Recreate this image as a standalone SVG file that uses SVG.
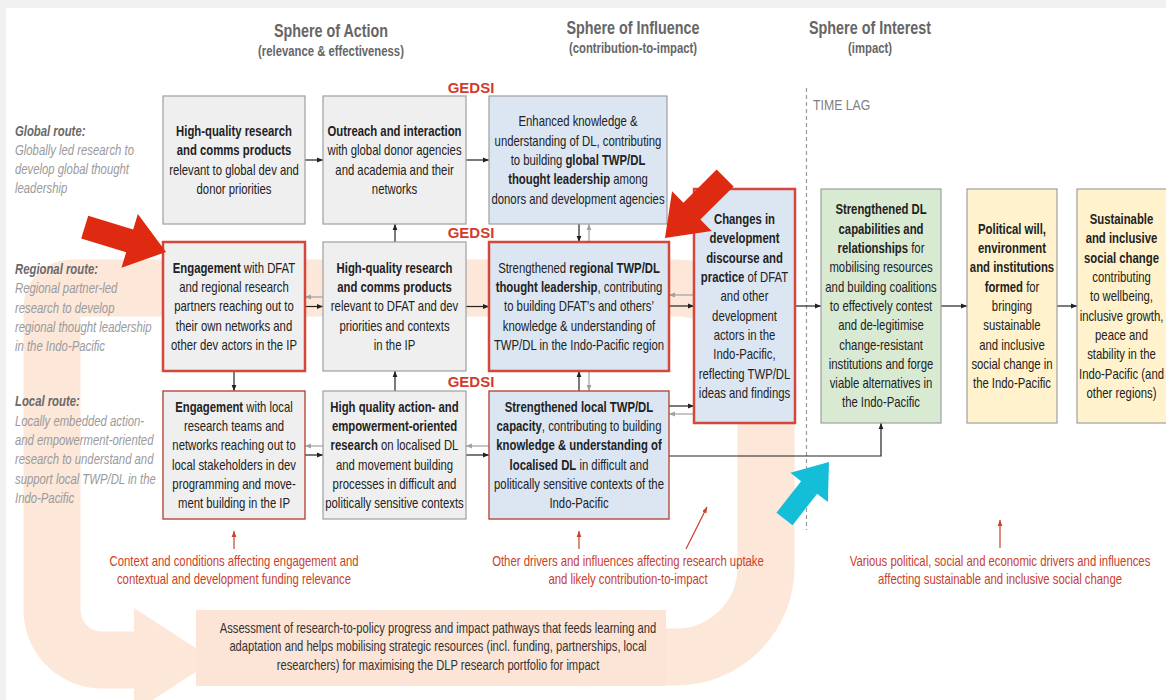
<svg xmlns="http://www.w3.org/2000/svg" width="1166" height="700" viewBox="0 0 1166 700">
<style>
text { font-family: "Liberation Sans", Arial, sans-serif; }
.t { font-size: 14px; fill: #222; text-anchor: middle; }
.b { font-weight: bold; }
.lbl { font-size: 14px; font-style: italic; fill: #9a9a9a; }
.lblh { font-weight: bold; fill: #6a6a6a; }
.hdr { font-size: 17.5px; font-weight: bold; fill: #666; text-anchor: middle; }
.sub { font-size: 13.8px; font-weight: bold; fill: #666; text-anchor: middle; }
.lag { font-size: 15px; fill: #808080; }
.gedsi { font-size: 15px; font-weight: bold; fill: #d23c2c; text-anchor: middle; }
.ann { font-size: 14px; fill: #c9412c; text-anchor: middle; }
.assess { font-size: 13.8px; fill: #333; text-anchor: middle; }
.grey { fill: #efefef; stroke: #9e9e9e; stroke-width: 1.2; }
.blue { fill: #dce6f2; stroke: #9e9e9e; stroke-width: 1.2; }
.redT { stroke: #d4473a; stroke-width: 2.5; }
.redt { stroke: #b5493b; stroke-width: 1.4; }
.green { fill: #d9ead3; stroke: #9e9e9e; stroke-width: 1.2; }
.yellow { fill: #fff2cc; stroke: #9e9e9e; stroke-width: 1.2; }
.c { fill: none; stroke: #222; stroke-width: 1.2; marker-end: url(#ah); }
.cg { fill: none; stroke: #a0a0a0; stroke-width: 1.2; marker-end: url(#ahg); }
.cr { fill: none; stroke: #c9412c; stroke-width: 1.2; marker-end: url(#ahr); }
.loop { fill: none; stroke: #fce7d9; stroke-width: 57; }
</style>
<defs>
<marker id="ah" viewBox="0 0 10 10" refX="10" refY="5" markerWidth="6" markerHeight="6" markerUnits="userSpaceOnUse" orient="auto"><path d="M0,1 L10,5 L0,9 Z" fill="#222"/></marker>
<marker id="ahg" viewBox="0 0 10 10" refX="10" refY="5" markerWidth="6" markerHeight="6" markerUnits="userSpaceOnUse" orient="auto"><path d="M0,1 L10,5 L0,9 Z" fill="#a0a0a0"/></marker>
<marker id="ahr" viewBox="0 0 10 10" refX="10" refY="5" markerWidth="6" markerHeight="6" markerUnits="userSpaceOnUse" orient="auto"><path d="M0,1 L10,5 L0,9 Z" fill="#c9412c"/></marker>
<path id="bigArrow" d="M-85,-12 L-38,-12 L-38,-28 L0,0 L-38,28 L-38,12 L-85,12 Z"/>
</defs>

<rect x="0" y="0" width="1166" height="700" fill="#f1f1f1"/>
<rect x="6" y="8" width="1160" height="692" fill="#ffffff"/>

<g id="feedback-loop">
<path class="loop" d="M600,657 H676 A90,90 0 0 0 766,567 V378 A90,90 0 0 0 676,288 H72 A20,20 0 0 0 52,308 V610 A50,50 0 0 0 102,660 H140"/>
<polygon points="134,608 214,660 134,712" fill="#fce7d9"/>
<rect x="196" y="610" width="470" height="76" fill="#fce5d6"/>
<text class="assess" transform="translate(438 0) scale(0.81 1)"><tspan x="0" y="633">Assessment of research-to-policy progress and impact pathways that feeds learning and</tspan><tspan x="0" y="651">adaptation and helps mobilising strategic resources (incl. funding, partnerships, local</tspan><tspan x="0" y="670">researchers) for maximising the DLP research portfolio for impact</tspan></text>
</g>

<g id="headers">
<text class="hdr" transform="translate(331 0) scale(0.82 1)" x="0" y="37">Sphere of Action</text>
<text class="sub" transform="translate(331 0) scale(0.82 1)" x="0" y="56">(relevance &amp; effectiveness)</text>
<text class="hdr" transform="translate(633 0) scale(0.82 1)" x="0" y="34">Sphere of Influence</text>
<text class="sub" transform="translate(633 0) scale(0.82 1)" x="0" y="53">(contribution-to-impact)</text>
<text class="hdr" transform="translate(870 0) scale(0.82 1)" x="0" y="34">Sphere of Interest</text>
<text class="sub" transform="translate(870 0) scale(0.82 1)" x="0" y="53">(impact)</text>
</g>

<g id="time-lag">
<path d="M806.5,88 V530" stroke="#9a9a9a" stroke-width="1.2" stroke-dasharray="4 3" fill="none"/>
<text class="lag" transform="translate(813 0) scale(0.82 1)" x="0" y="110">TIME LAG</text>
</g>

<g id="route-labels">
<text class="lbl" transform="translate(15 0) scale(0.81 1)"><tspan class="lblh" x="0" y="136">Global route:</tspan><tspan x="0" y="155">Globally led research to</tspan><tspan x="0" y="174">develop global thought</tspan><tspan x="0" y="193">leadership</tspan></text>
<text class="lbl" transform="translate(15 0) scale(0.81 1)"><tspan class="lblh" x="0" y="274">Regional route:</tspan><tspan x="0" y="293.3">Regional partner-led</tspan><tspan x="0" y="312.6">research to develop</tspan><tspan x="0" y="331.9">regional thought leadership</tspan><tspan x="0" y="351.2">in the Indo-Pacific</tspan></text>
<text class="lbl" transform="translate(15 0) scale(0.81 1)"><tspan class="lblh" x="0" y="406.5">Local route:</tspan><tspan x="0" y="425.8">Locally embedded action-</tspan><tspan x="0" y="445.1">and empowerment-oriented</tspan><tspan x="0" y="464.4">research to understand and</tspan><tspan x="0" y="483.7">support local TWP/DL in the</tspan><tspan x="0" y="503">Indo-Pacific</tspan></text>
</g>

<g id="gedsi">
<text class="gedsi" x="471" y="93">GEDSI</text>
<text class="gedsi" x="471" y="238">GEDSI</text>
<text class="gedsi" x="471" y="386.5">GEDSI</text>
</g>

<g id="connectors">
<path class="c" d="M305,160 H323"/>
<path class="c" d="M466,160 H489"/>
<path class="c" d="M395,242 V224"/>
<path class="c" d="M579,224 V242"/>
<path class="cg" d="M589,242 V224"/>
<path class="cg" d="M323,297 H305"/>
<path class="c" d="M305,306.5 H323"/>
<path class="c" d="M466,306.5 H489"/>
<path class="c" d="M395,391 V371"/>
<path class="c" d="M579,391 V371"/>
<path class="cg" d="M589,371 V391"/>
<path class="c" d="M234,371 V391"/>
<path class="cg" d="M323,446 H305"/>
<path class="c" d="M305,455 H323"/>
<path class="cg" d="M489,446 H466"/>
<path class="c" d="M466,455 H489"/>
<path class="cg" d="M694,295 H669"/>
<path class="c" d="M669,306 H694"/>
<path class="c" d="M669,406 H694"/>
<path class="cg" d="M694,414 H669"/>
<path class="c" d="M795,306 H821"/>
<path class="c" d="M941,306 H967"/>
<path class="c" d="M1057,306 H1077"/>
<path class="c" d="M669,456 H881 V423"/>
<path class="cr" d="M234,549 V531"/>
<path class="cr" d="M579,549 V531"/>
<path class="cr" d="M686,549 L707,507"/>
<path class="cr" d="M1000,548 V520"/>
</g>

<g id="node-A1">
<rect class="grey" x="163" y="96" width="142" height="128"/>
<text class="t" transform="translate(234 0) scale(0.81 1)"><tspan class="b" x="0" y="136">High-quality research</tspan><tspan class="b" x="0" y="155.3">and comms products</tspan><tspan x="0" y="174.6">relevant to global dev and</tspan><tspan x="0" y="193.9">donor priorities</tspan></text>
</g>
<g id="node-A2">
<rect class="grey" x="323" y="96" width="143" height="128"/>
<text class="t" transform="translate(394.5 0) scale(0.81 1)"><tspan class="b" x="0" y="136">Outreach and interaction</tspan><tspan x="0" y="155.3">with global donor agencies</tspan><tspan x="0" y="174.6">and academia and their</tspan><tspan x="0" y="193.9">networks</tspan></text>
</g>
<g id="node-A3">
<rect class="blue" x="489" y="96" width="178" height="128"/>
<text class="t" transform="translate(578 0) scale(0.81 1)"><tspan x="0" y="126.4">Enhanced knowledge &amp;</tspan><tspan x="0" y="145.7">understanding of DL, contributing</tspan><tspan x="0" y="165">to building <tspan class="b">global TWP/DL</tspan></tspan><tspan x="0" y="184.3"><tspan class="b">thought leadership</tspan> among</tspan><tspan x="0" y="203.6">donors and development agencies</tspan></text>
</g>

<g id="node-B1">
<rect class="grey redT" x="163" y="242" width="142" height="129"/>
<text class="t" transform="translate(234 0) scale(0.81 1)"><tspan x="0" y="272.9"><tspan class="b">Engagement</tspan> with DFAT</tspan><tspan x="0" y="292.2">and regional research</tspan><tspan x="0" y="311.5">partners reaching out to</tspan><tspan x="0" y="330.8">their own networks and</tspan><tspan x="0" y="350.1">other dev actors in the IP</tspan></text>
</g>
<g id="node-B2">
<rect class="grey" x="323" y="242" width="143" height="129"/>
<text class="t" transform="translate(394.5 0) scale(0.81 1)"><tspan class="b" x="0" y="272.9">High-quality research</tspan><tspan class="b" x="0" y="292.2">and comms products</tspan><tspan x="0" y="311.5">relevant to DFAT and dev</tspan><tspan x="0" y="330.8">priorities and contexts</tspan><tspan x="0" y="350.1">in the IP</tspan></text>
</g>
<g id="node-B3">
<rect class="blue redT" x="489" y="242" width="180" height="129"/>
<text class="t" transform="translate(579 0) scale(0.81 1)"><tspan x="0" y="272.9">Strengthened <tspan class="b">regional TWP/DL</tspan></tspan><tspan x="0" y="292.2"><tspan class="b">thought leadership</tspan>, contributing</tspan><tspan x="0" y="311.5">to building DFAT’s and others’</tspan><tspan x="0" y="330.8">knowledge &amp; understanding of</tspan><tspan x="0" y="350.1">TWP/DL in the Indo-Pacific region</tspan></text>
</g>

<g id="node-L1">
<rect class="grey redt" x="163" y="391" width="142" height="128"/>
<text class="t" transform="translate(234 0) scale(0.81 1)"><tspan x="0" y="411.8"><tspan class="b">Engagement</tspan> with local</tspan><tspan x="0" y="431.1">research teams and</tspan><tspan x="0" y="450.4">networks reaching out to</tspan><tspan x="0" y="469.7">local stakeholders in dev</tspan><tspan x="0" y="489">programming and move-</tspan><tspan x="0" y="508.3">ment building in the IP</tspan></text>
</g>
<g id="node-L2">
<rect class="grey" x="323" y="391" width="143" height="128"/>
<text class="t" transform="translate(394.5 0) scale(0.81 1)"><tspan class="b" x="0" y="411.8">High quality action- and</tspan><tspan class="b" x="0" y="431.1">empowerment-oriented</tspan><tspan x="0" y="450.4"><tspan class="b">research</tspan> on localised DL</tspan><tspan x="0" y="469.7">and movement building</tspan><tspan x="0" y="489">processes in difficult and</tspan><tspan x="0" y="508.3">politically sensitive contexts</tspan></text>
</g>
<g id="node-L3">
<rect class="blue redt" x="489" y="391" width="180" height="128"/>
<text class="t" transform="translate(579 0) scale(0.81 1)"><tspan class="b" x="0" y="411.8">Strengthened local TWP/DL</tspan><tspan x="0" y="431.1"><tspan class="b">capacity</tspan>, contributing to building</tspan><tspan class="b" x="0" y="450.4">knowledge &amp; understanding of</tspan><tspan x="0" y="469.7"><tspan class="b">localised DL</tspan> in difficult and</tspan><tspan x="0" y="489">politically sensitive contexts of the</tspan><tspan x="0" y="508.3">Indo-Pacific</tspan></text>
</g>

<g id="node-C">
<rect class="blue redT" x="694" y="189" width="101" height="234"/>
<text class="t" transform="translate(744.5 0) scale(0.81 1)"><tspan class="b" x="0" y="224.2">Changes in</tspan><tspan class="b" x="0" y="243.5">development</tspan><tspan class="b" x="0" y="262.8">discourse and</tspan><tspan x="0" y="282.1"><tspan class="b">practice</tspan> of DFAT</tspan><tspan x="0" y="301.4">and other</tspan><tspan x="0" y="320.7">development</tspan><tspan x="0" y="340">actors in the</tspan><tspan x="0" y="359.3">Indo-Pacific,</tspan><tspan x="0" y="378.6">reflecting TWP/DL</tspan><tspan x="0" y="397.9">ideas and findings</tspan></text>
</g>

<g id="node-G">
<rect class="green" x="821" y="189" width="120" height="234"/>
<text class="t" transform="translate(881 0) scale(0.81 1)"><tspan class="b" x="0" y="214.5">Strengthened DL</tspan><tspan class="b" x="0" y="233.8">capabilities and</tspan><tspan x="0" y="253.1"><tspan class="b">relationships</tspan> for</tspan><tspan x="0" y="272.4">mobilising resources</tspan><tspan x="0" y="291.7">and building coalitions</tspan><tspan x="0" y="311">to effectively contest</tspan><tspan x="0" y="330.3">and de-legitimise</tspan><tspan x="0" y="349.6">change-resistant</tspan><tspan x="0" y="368.9">institutions and forge</tspan><tspan x="0" y="388.2">viable alternatives in</tspan><tspan x="0" y="407.5">the Indo-Pacific</tspan></text>
</g>

<g id="node-P">
<rect class="yellow" x="967" y="189" width="90" height="234"/>
<text class="t" transform="translate(1012 0) scale(0.81 1)"><tspan class="b" x="0" y="233.8">Political will,</tspan><tspan class="b" x="0" y="253.1">environment</tspan><tspan class="b" x="0" y="272.4">and institutions</tspan><tspan x="0" y="291.7"><tspan class="b">formed</tspan> for</tspan><tspan x="0" y="311">bringing</tspan><tspan x="0" y="330.3">sustainable</tspan><tspan x="0" y="349.6">and inclusive</tspan><tspan x="0" y="368.9">social change in</tspan><tspan x="0" y="388.2">the Indo-Pacific</tspan></text>
</g>

<g id="node-S">
<rect class="yellow" x="1077" y="189" width="92" height="234"/>
<text class="t" transform="translate(1121.5 0) scale(0.81 1)"><tspan class="b" x="0" y="224.2">Sustainable</tspan><tspan class="b" x="0" y="243.5">and inclusive</tspan><tspan class="b" x="0" y="262.8">social change</tspan><tspan x="0" y="282.1">contributing</tspan><tspan x="0" y="301.4">to wellbeing,</tspan><tspan x="0" y="320.7">inclusive growth,</tspan><tspan x="0" y="340">peace and</tspan><tspan x="0" y="359.3">stability in the</tspan><tspan x="0" y="378.6">Indo-Pacific (and</tspan><tspan x="0" y="397.9">other regions)</tspan></text>
</g>

<g id="annotations">
<text class="ann" transform="translate(234 0) scale(0.81 1)"><tspan x="0" y="566.5">Context and conditions affecting engagement and</tspan><tspan x="0" y="584.5">contextual and development funding relevance</tspan></text>
<text class="ann" transform="translate(628 0) scale(0.81 1)"><tspan x="0" y="566.5">Other drivers and influences affecting research uptake</tspan><tspan x="0" y="584.5">and likely contribution-to-impact</tspan></text>
<text class="ann" transform="translate(1000 0) scale(0.81 1)"><tspan x="0" y="566.5">Various political, social and economic drivers and influences</tspan><tspan x="0" y="584.5">affecting sustainable and inclusive social change</tspan></text>
</g>

<g id="highlight-arrows">
<use href="#bigArrow" fill="#dd2a10" transform="translate(166,252) rotate(17)"/>
<use href="#bigArrow" fill="#dd2a10" transform="translate(665,238) rotate(135)"/>
<use href="#bigArrow" fill="#14bdd8" transform="translate(829,462) rotate(-52) scale(0.85)"/>
</g>
</svg>
